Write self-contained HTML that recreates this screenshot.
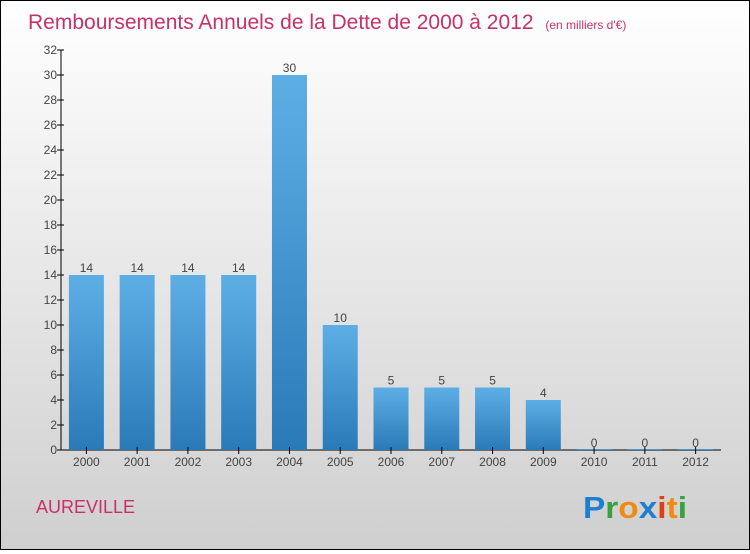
<!DOCTYPE html>
<html><head><meta charset="utf-8"><style>
html,body{margin:0;padding:0}
body{width:750px;height:550px;overflow:hidden;font-family:"Liberation Sans",sans-serif}
#wrap{position:relative;width:748px;height:548px;border:1px solid #000;background:linear-gradient(#fff,#cfcfcf)}
</style></head><body>
<div id="wrap">
<svg id="chart" width="748" height="548">
<defs><linearGradient id="bg" x1="0" y1="0" x2="0" y2="1"><stop offset="0" stop-color="#5eaee6"/><stop offset="1" stop-color="#2a7ab8"/></linearGradient></defs>
<text x="27" y="28" font-size="21" font-weight="normal" fill="#c8306a">Remboursements Annuels de la Dette de 2000 à 2012 <tspan font-size="12" dx="6">(en milliers d'€)</tspan></text>
<text x="35" y="512" font-size="18" fill="#c8306a">AUREVILLE</text>
<g font-size="31" font-weight="bold">
<text x="582" y="517" textLength="104" lengthAdjust="spacingAndGlyphs"><tspan fill="#1e7fd0">P</tspan><tspan fill="#3aa040">r</tspan><tspan fill="#f08a10">o</tspan><tspan fill="#1e7fd0">x</tspan><tspan fill="#e04010">i</tspan><tspan fill="#f08a10">t</tspan><tspan fill="#3aa040">i</tspan></text></g>
<g id="g"></g>
</svg></div>
<script>
const categories=["2000","2001","2002","2003","2004","2005","2006","2007","2008","2009","2010","2011","2012"];
const values=[14,14,14,14,30,10,5,5,5,4,0,0,0];
const yTicks=[0,2,4,6,8,10,12,14,16,18,20,22,24,26,28,30,32];
const ns="http://www.w3.org/2000/svg";
const g=document.getElementById('g');
const x0=60,x1=720,y0=449,yTop=49,yMax=32;
const step=(x1-x0)/categories.length;
const y=v=>y0-(v/yMax)*(y0-yTop);
const xc=i=>x0+step*(i+0.5);
function mk(t,a,txt){const e=document.createElementNS(ns,t);for(const k in a)e.setAttribute(k,a[k]);if(txt!==undefined)e.textContent=txt;g.appendChild(e);return e;}
let e=mk('line',{x1:x0,y1:yTop,x2:x0,y2:y0,stroke:'#000'});


e=mk('line',{x1:x0,y1:y0,x2:x1,y2:y0,stroke:'#000'});


yTicks.forEach(t=>{
 e=mk('line',{x1:x0-4,y1:y(t),x2:x0+3,y2:y(t),stroke:'#000'});
 
 
 e=mk('text',{x:x0-4,y:y(t)+4,'text-anchor':'end','font-size':12,fill:'#444'},t);
 
 
});
categories.forEach((c,i)=>{
 const v=values[i],cx=xc(i),w=35;
 e=mk('rect',{x:cx-w/2,y:Math.min(y(v),y0-1),width:w,height:Math.max(y0-y(v),1),fill:'url(#bg)'});
 
 
 e=mk('text',{x:cx,y:y(v)-3,'text-anchor':'middle','font-size':12,fill:'#444'},v);
 
 
 e=mk('line',{x1:cx,y1:y0-3,x2:cx,y2:y0+4,stroke:'#000'});
 
 
 e=mk('text',{x:cx,y:y0+16,'text-anchor':'middle','font-size':12,fill:'#444'},c);
 
 
});
</script>
</body></html>
